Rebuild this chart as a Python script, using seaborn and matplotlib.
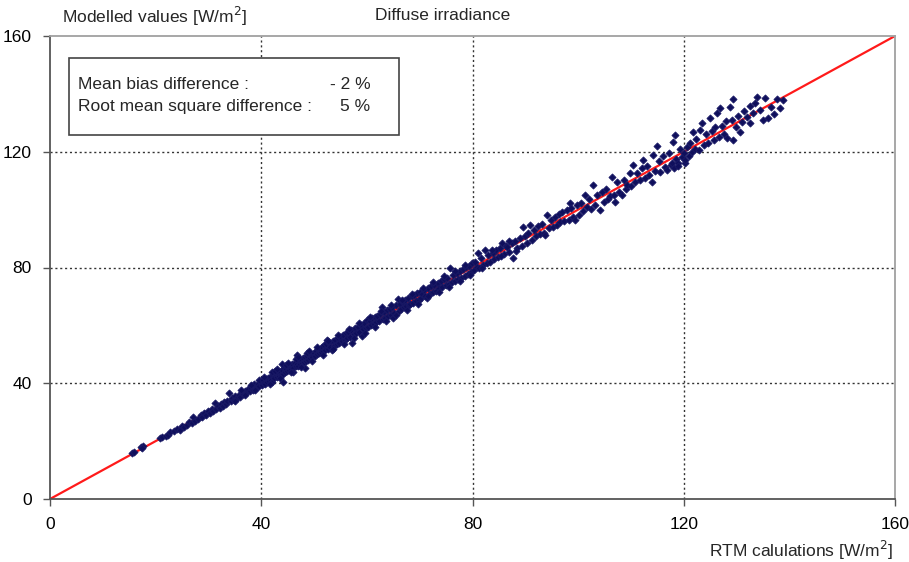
import matplotlib
matplotlib.use("Agg")
import matplotlib.pyplot as plt
import seaborn as sns
import pandas as pd
from matplotlib.patches import Rectangle

# ---- data (RTM value, modelled value) ----
seg_15_30 = [(15.5,15.8),(15.9,16.3),(17.2,17.9),(17.6,18.4),(17.4,17.6),(20.8,21.0),(21.3,21.4),
             (21.9,21.6),(22.4,22.2),(22.8,23.0),(23.5,23.4),(24.1,24.3),(24.6,24.0),(25.0,25.2),
             (25.4,25.0),(25.9,25.5),(26.3,26.6),(26.8,26.2),(27.1,28.4),(27.5,27.1),(28.0,27.6),
             (28.5,28.9),(28.8,28.3),(29.2,29.6),(29.6,29.0),(30.0,30.3)]
seg_30_40 = [(30.3,29.8),(30.6,31.0),(30.9,30.4),(31.2,33.1),(31.5,31.2),(31.8,32.3),(32.1,31.6),
             (32.4,32.9),(32.7,32.0),(33.0,33.5),(33.3,32.8),(33.6,34.0),(33.9,36.5),(34.2,33.8),
             (34.5,35.0),(34.8,34.3),(35.1,35.6),(35.4,34.8),(35.7,36.1),(36.0,35.4),(36.3,36.9),
             (36.6,36.2),(36.9,37.2),(37.2,36.6),(37.5,38.0),(37.8,37.3),(38.1,38.5),(38.4,37.8),
             (38.7,39.6),(39.0,38.4),(39.3,39.9),(39.6,39.0),(39.9,40.5),(38.0,39.3),(36.2,37.5),
             (35.0,33.9),(37.0,35.9),(39.5,41.2),(38.9,37.6)]
seg_40_50 = [(40.1,39.4),(40.3,41.0),(40.5,40.2),(40.7,39.8),(40.9,41.5),(41.1,40.6),(41.3,41.9),
             (41.5,40.9),(41.7,42.3),(41.9,41.2),(42.1,40.4),(42.3,42.8),(42.5,41.8),(42.7,43.2),
             (42.9,42.1),(43.1,43.6),(43.3,42.5),(43.5,44.0),(43.7,42.9),(43.9,44.6),(44.1,43.3),
             (44.3,45.2),(44.5,43.8),(44.7,44.9),(44.9,44.1),(45.1,46.0),(45.3,44.6),(45.5,45.8),
             (45.7,44.9),(45.9,46.5),(46.1,45.3),(46.3,47.1),(46.5,45.9),(46.7,46.8),(46.9,46.1),
             (47.1,47.9),(47.3,46.6),(47.5,48.2),(47.7,46.9),(47.9,48.6),(48.1,47.5),(48.3,49.1),
             (48.5,47.8),(48.7,49.5),(48.9,48.2),(49.1,50.0),(49.3,48.6),(49.5,49.9),(49.7,49.0),
             (49.9,50.6),(44.0,46.8),(42.0,43.9),(46.0,43.9),(46.8,49.8),(48.3,45.3),(44.1,40.4),
             (40.6,42.2),(41.6,39.6),(42.6,44.3),(43.6,41.8),(44.6,46.3),(45.6,43.8),(46.6,48.3),
             (47.6,45.6),(48.6,50.3),(49.6,47.8),(43.0,44.9),(45.0,47.0),(47.0,48.9),(49.0,51.0)]
seg_50_60 = [(50.1,49.3),(50.3,51.2),(50.5,50.0),(50.7,51.8),(50.9,50.3),(51.1,52.0),(51.3,50.7),
             (51.5,52.6),(51.7,51.2),(51.9,53.1),(52.1,51.5),(52.3,53.4),(52.5,55.0),(52.7,52.0),
             (52.9,54.0),(53.1,52.6),(53.4,51.5),(53.6,54.5),(53.8,53.0),(54.0,55.1),(54.3,53.4),
             (54.5,55.6),(54.8,54.0),(55.0,56.1),(55.3,54.5),(55.5,56.8),(55.8,55.0),(56.0,57.2),
             (56.3,55.6),(56.5,57.8),(56.8,56.0),(57.0,58.3),(57.2,53.8),(57.5,56.9),(57.8,59.0),
             (58.0,57.3),(58.3,59.5),(58.5,57.7),(58.8,60.2),(59.0,56.2),(59.3,58.6),(59.5,60.8),
             (59.8,59.0),(50.6,52.6),(51.6,49.9),(52.6,54.6),(53.6,51.8),(54.6,56.7),(55.6,53.6),
             (56.6,58.7),(57.6,55.5),(58.6,60.9),(59.6,57.4)]
seg_60_70 = [(60.0,61.9),(60.2,59.4),(60.5,61.5),(60.8,60.0),(61.0,62.6),(61.3,60.5),(61.5,63.0),
             (61.8,61.0),(62.0,63.4),(62.3,61.6),(62.5,63.9),(62.9,66.5),(63.0,62.2),(63.3,64.6),
             (63.5,62.7),(63.8,65.2),(64.0,63.1),(64.3,65.6),(64.5,63.6),(64.8,66.2),(65.0,62.4),
             (65.2,64.3),(65.5,66.9),(65.9,69.0),(66.0,65.1),(66.3,67.4),(66.5,65.6),(66.8,68.0),
             (67.0,66.2),(67.3,68.7),(67.5,66.6),(67.8,69.3),(68.0,67.0),(68.2,67.3),(68.5,70.0),
             (68.8,67.9),(69.0,70.6),(69.3,68.3),(69.5,71.2),(69.8,68.8),(60.6,62.8),(61.6,59.6),
             (62.6,64.8),(63.6,61.4),(64.6,67.0),(65.6,63.6),(66.6,68.9),(67.6,65.3),(68.6,71.0),
             (69.6,67.4)]
seg_70_80 = [(70.0,71.5),(70.2,69.3),(70.5,70.9),(70.8,72.3),(71.0,70.0),(71.4,69.5),(71.6,72.8),
             (71.9,71.0),(72.2,73.5),(72.5,71.6),(72.8,74.0),(73.1,72.0),(73.4,74.6),(73.7,72.8),
             (74.0,75.2),(74.3,73.2),(74.6,76.0),(74.9,73.9),(75.2,76.5),(75.5,74.3),(75.8,79.8),
             (76.1,75.0),(76.4,77.5),(76.7,75.4),(77.0,78.2),(77.3,76.0),(77.6,78.8),(77.9,76.5),
             (78.2,79.4),(78.5,77.2),(78.8,80.3),(79.1,77.8),(79.4,80.6),(79.7,78.4),(79.9,81.5),
             (70.6,73.0),(71.6,70.0),(72.6,74.9),(73.6,71.4),(74.6,77.0),(75.6,73.4),(76.6,78.9),
             (77.6,75.4),(78.6,81.0),(79.6,77.3)]
seg_80_90 = [(80.2,79.0),(80.5,82.0),(80.8,80.1),(81.0,85.0),(81.3,79.8),(81.6,83.2),(82.0,81.0),
             (82.4,86.0),(82.7,81.5),(83.0,84.3),(83.4,82.0),(83.8,85.0),(84.1,82.8),(84.5,86.2),
             (84.8,83.5),(85.2,86.9),(85.6,88.5),(85.9,84.6),(86.3,87.5),(86.6,87.1),(87.0,85.4),
             (87.4,88.6),(87.7,83.3),(88.1,89.2),(88.5,86.9),(88.9,90.3),(89.3,87.5),(89.6,94.0),
             (89.9,90.8),(81.8,80.0),(83.6,86.0),(85.4,83.9),(86.9,89.3),(88.3,85.6)]
seg_90_100 = [(90.3,88.6),(90.6,92.0),(90.9,94.7),(91.3,89.5),(91.7,93.0),(92.0,90.8),(92.4,94.5),
              (92.8,91.5),(93.1,95.0),(93.5,92.0),(93.8,91.2),(94.1,98.1),(94.4,93.5),(94.8,96.5),
              (95.2,94.0),(95.6,97.3),(96.0,94.8),(96.3,98.5),(96.6,95.7),(97.0,99.2),(97.4,96.0),
              (97.8,99.8),(98.2,96.5),(98.5,102.3),(98.6,100.5),(99.0,97.6),(99.4,96.4),(99.8,101.5)]
seg_100_110 = [(100.2,98.3),(100.6,102.4),(101.0,99.5),(101.3,105.0),(101.7,100.8),(102.1,103.5),
               (102.5,100.2),(102.8,108.5),(103.2,101.5),(103.6,105.0),(104.2,99.9),(104.5,106.2),
               (104.9,102.8),(105.3,107.0),(105.7,103.5),(106.0,104.8),(106.4,111.3),(106.8,105.0),
               (107.0,102.6),(107.4,109.5),(107.8,106.0),(108.3,105.0),(108.6,110.3),(109.0,107.2),
               (109.3,108.5),(109.8,112.6)]
seg_110_120 = [(110.1,108.0),(110.4,115.4),(110.8,109.5),(111.2,112.8),(111.7,110.2),(112.0,114.5),
               (112.3,117.1),(112.7,110.8),(113.1,115.0),(113.5,111.8),(114.0,109.5),(114.2,118.9),
               (114.6,113.5),(115.0,122.0),(115.3,116.8),(115.5,113.0),(116.0,118.5),(116.4,114.6),
               (116.9,113.7),(117.3,119.5),(117.5,115.5),(117.8,116.0),(118.0,123.4),(118.2,114.5),
               (118.4,125.8),(118.6,117.5),(118.9,116.1),(119.0,115.2),(119.3,121.0),(119.7,118.2),
               (120.0,119.5),(120.2,116.0)]
seg_120_139 = [(120.3,117.0),(120.6,121.5),(120.9,118.5),(121.2,123.0),(121.5,120.0),(121.8,126.8),
               (122.1,121.0),(122.4,124.5),(122.8,120.5),(123.1,127.5),(123.5,129.9),(123.8,122.5),
               (124.2,126.0),(124.6,123.0),(125.0,131.7),(125.3,127.0),(125.7,124.0),(126.0,128.5),
               (126.3,133.4),(126.6,125.0),(126.9,135.1),(127.2,129.0),(127.6,126.2),(128.0,130.5),
               (128.2,124.7),(128.8,135.5),(129.1,131.0),(129.4,124.0),(129.4,138.2),(129.8,128.5),
               (130.3,132.5),(130.7,126.8),(131.0,130.3),(131.5,134.0),(132.0,132.0),(132.6,129.9),
               (132.6,135.8),(133.1,133.5),(133.5,137.0),(133.9,138.9),(134.5,134.4),(135.0,131.0),
               (135.4,138.6),(136.0,131.7),(136.5,135.5),(137.0,133.0),(137.7,138.2),(138.3,135.1),
               (138.8,137.9)]

line_x = [0, 160]
line_y = [0, 160]
ticks = [0, 40, 80, 120, 160]

segments = [seg_15_30, seg_30_40, seg_40_50, seg_50_60, seg_60_70, seg_70_80,
            seg_80_90, seg_90_100, seg_100_110, seg_110_120, seg_120_139]
pts = [p for s in segments for p in s]
df = pd.DataFrame(pts, columns=["rtm", "model"])

sns.set_theme(style="white")
plt.rcParams["font.family"] = ["Liberation Sans", "DejaVu Sans"]

fig = plt.figure(figsize=(9.09, 5.62), dpi=100)
ax = fig.add_axes([50/909, 1-499/562, 845/909, 463/562])

ax.plot(line_x, line_y, color="#ff1a1a", lw=1.6, zorder=2)
sns.scatterplot(data=df, x="rtm", y="model", ax=ax, marker="D", s=13,
                color="#0f0f5c", edgecolor="#1a1a66", linewidth=0.6, zorder=3)

ax.set_xlim(0, 160)
ax.set_ylim(0, 160)
ax.set_xticks(ticks)
ax.set_yticks(ticks)
ax.set_xticklabels([str(t) for t in ticks], fontsize=12.5)
ax.set_yticklabels([str(t) for t in ticks], fontsize=12.5)
ax.set_xlabel("")
ax.set_ylabel("")
ax.tick_params(axis="both", direction="out", length=5, width=1, color="#555555",
               bottom=True, left=True, pad=8, labelcolor="black")

for v in ticks[1:-1]:
    ax.axvline(v, color="#333333", lw=1, ls=(0, (1.5, 2)), zorder=1)
    ax.axhline(v, color="#333333", lw=1, ls=(0, (1.5, 2)), zorder=1)

for side in ["left", "bottom"]:
    ax.spines[side].set_color("#555555")
    ax.spines[side].set_linewidth(1.3)
for side in ["top", "right"]:
    ax.spines[side].set_color("#a0a0a0")
    ax.spines[side].set_linewidth(1.3)

# statistics box
ax.add_patch(Rectangle((0.0225, 0.786), 0.39, 0.166, transform=ax.transAxes,
                       fill=True, facecolor="white", edgecolor="#444444", lw=1.2, zorder=4))
ax.text(0.033, 0.896, "Mean bias difference :", transform=ax.transAxes,
        fontsize=12.5, va="center", ha="left", zorder=5)
ax.text(0.379, 0.896, "- 2 %", transform=ax.transAxes,
        fontsize=12.5, va="center", ha="right", zorder=5)
ax.text(0.033, 0.847, "Root mean square difference :", transform=ax.transAxes,
        fontsize=12.5, va="center", ha="left", zorder=5)
ax.text(0.379, 0.847, "5 %", transform=ax.transAxes,
        fontsize=12.5, va="center", ha="right", zorder=5)

fig.text(62/909, 1-16/562, "Modelled values [W/m$^2$]", fontsize=12.5, ha="left", va="center")
fig.text(443/909, 1-16/562, "Diffuse irradiance", fontsize=12.5, ha="center", va="center")
fig.text(893/909, 1-550/562, "RTM calulations [W/m$^2$]", fontsize=12.5, ha="right", va="center")

fig.savefig("out.png", dpi=100)
